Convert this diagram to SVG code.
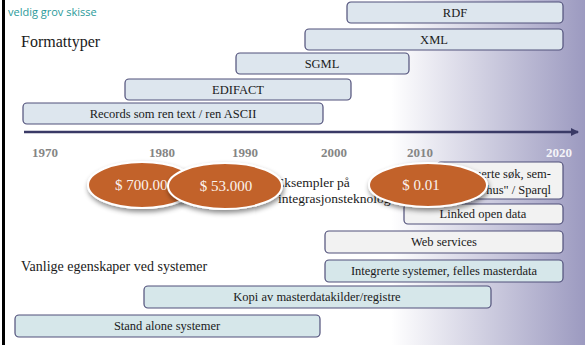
<svg xmlns="http://www.w3.org/2000/svg" width="585" height="345" viewBox="0 0 585 345">
<defs>
<linearGradient id="bg" x1="0" y1="0" x2="1" y2="0">
<stop offset="0" stop-color="#ffffff" stop-opacity="0"/>
<stop offset="0.24" stop-color="#ffffff" stop-opacity="1"/>
<stop offset="1" stop-color="#9c9ac0"/>
</linearGradient>
<marker id="arr" markerWidth="8" markerHeight="8" refX="7" refY="4" orient="auto" markerUnits="userSpaceOnUse">
<path d="M0,0 L8,4 L0,8 Z" fill="#3a3a66"/>
</marker>
<filter id="sh" x="-20%" y="-30%" width="140%" height="170%">
<feDropShadow dx="1" dy="3" stdDeviation="2.5" flood-color="#000" flood-opacity="0.45"/>
</filter>
</defs>
<style>
.bx{stroke:#50507a;stroke-width:1.2}
.fmt{fill:#dde6ee}
.grey{fill:#f2f2f2}
.teal{fill:#d6e7ea}
.t{font-family:"Liberation Serif","Times New Roman",serif;font-size:12.5px;fill:#1a1a1a;text-anchor:middle}
.h{font-family:"Liberation Serif","Times New Roman",serif;fill:#1a1a1a}
.yr{font-family:"Liberation Serif","Times New Roman",serif;font-size:13px;font-weight:bold;fill:#858585;text-anchor:middle}
.el{fill:#c2622c;stroke:#ffffff;stroke-width:2;filter:url(#sh)}
.et{font-family:"Liberation Serif","Times New Roman",serif;font-size:15px;fill:#fbf3ee;text-anchor:middle}
</style>
<rect x="0" y="0" width="585" height="345" fill="#ffffff"/>
<rect x="330" y="0" width="255" height="345" fill="url(#bg)"/>
<rect x="2" y="0" width="3" height="345" fill="#000000"/>
<text x="8" y="16" font-family="'Open Sans','Liberation Sans',sans-serif" font-size="11" fill="#2a9a9a">veldig grov skisse</text>
<text class="h" x="21" y="47" font-size="16">Formattyper</text>
<text class="h" x="21" y="271" font-size="14">Vanlige egenskaper ved systemer</text>

<g id="rdf"><rect class="bx fmt" x="347" y="2" width="216" height="21" rx="4"/><text class="t" x="455" y="17">RDF</text></g>
<g id="xml"><rect class="bx fmt" x="305" y="29" width="258" height="21" rx="4"/><text class="t" x="434" y="44">XML</text></g>
<g id="sgml"><rect class="bx fmt" x="236" y="53" width="173" height="21" rx="4"/><text class="t" x="322" y="68">SGML</text></g>
<g id="edifact"><rect class="bx fmt" x="125" y="79" width="226" height="21" rx="4"/><text class="t" x="238" y="94">EDIFACT</text></g>
<g id="records"><rect class="bx fmt" x="23" y="103" width="300" height="21" rx="4"/><text class="t" x="173" y="118">Records som ren text / ren ASCII</text></g>

<g id="connectors">
<line x1="24" y1="132" x2="578" y2="132" stroke="#3a3a66" stroke-width="2.5" marker-end="url(#arr)"/>
</g>

<g id="years">
<text class="yr" x="45" y="157">1970</text>
<text class="yr" x="162" y="157">1980</text>
<text class="yr" x="245" y="157">1990</text>
<text class="yr" x="334" y="157">2000</text>
<text class="yr" x="420" y="157">2010</text>
<text class="yr" x="559" y="157" style="fill:#f4f4f8">2020</text>
</g>

<g id="eksempler">
<text class="h" x="276" y="187" font-size="13.5">Eksempler på</text>
<text class="h" x="278" y="203" font-size="13.5">integrasjonsteknologi</text>
</g>

<g id="sparql"><rect class="bx grey" x="437" y="162" width="126" height="37" rx="4"/>
<text class="t" x="551" y="178" style="text-anchor:end">Distribuerte søk, sem-</text>
<text class="t" x="551" y="194" style="text-anchor:end">antisk "Data-hus" / Sparql</text></g>
<g id="lod"><rect class="bx grey" x="404" y="204" width="159" height="20" rx="4"/><text class="t" x="483" y="218">Linked open data</text></g>
<g id="websvc"><rect class="bx grey" x="325" y="231" width="238" height="22" rx="4"/><text class="t" x="444" y="246">Web services</text></g>
<g id="integrerte"><rect class="bx teal" x="325" y="260" width="238" height="22" rx="4"/><text class="t" x="444" y="275">Integrerte systemer, felles masterdata</text></g>
<g id="kopi"><rect class="bx teal" x="144" y="286" width="347" height="22" rx="4"/><text class="t" x="317" y="301">Kopi av masterdatakilder/registre</text></g>
<g id="standalone"><rect class="bx teal" x="15" y="315" width="305" height="22" rx="4"/><text class="t" x="167" y="330">Stand alone systemer</text></g>

<g id="cost700"><ellipse class="el" cx="142" cy="185" rx="54" ry="23"/><text class="et" x="145" y="190">$ 700.000</text></g>
<g id="cost53"><ellipse class="el" cx="225" cy="186" rx="57" ry="23"/><text class="et" x="226" y="191">$ 53.000</text></g>
<g id="cost001"><ellipse class="el" cx="428" cy="185" rx="59" ry="22"/><text class="et" x="421" y="190">$ 0.01</text></g>
</svg>
